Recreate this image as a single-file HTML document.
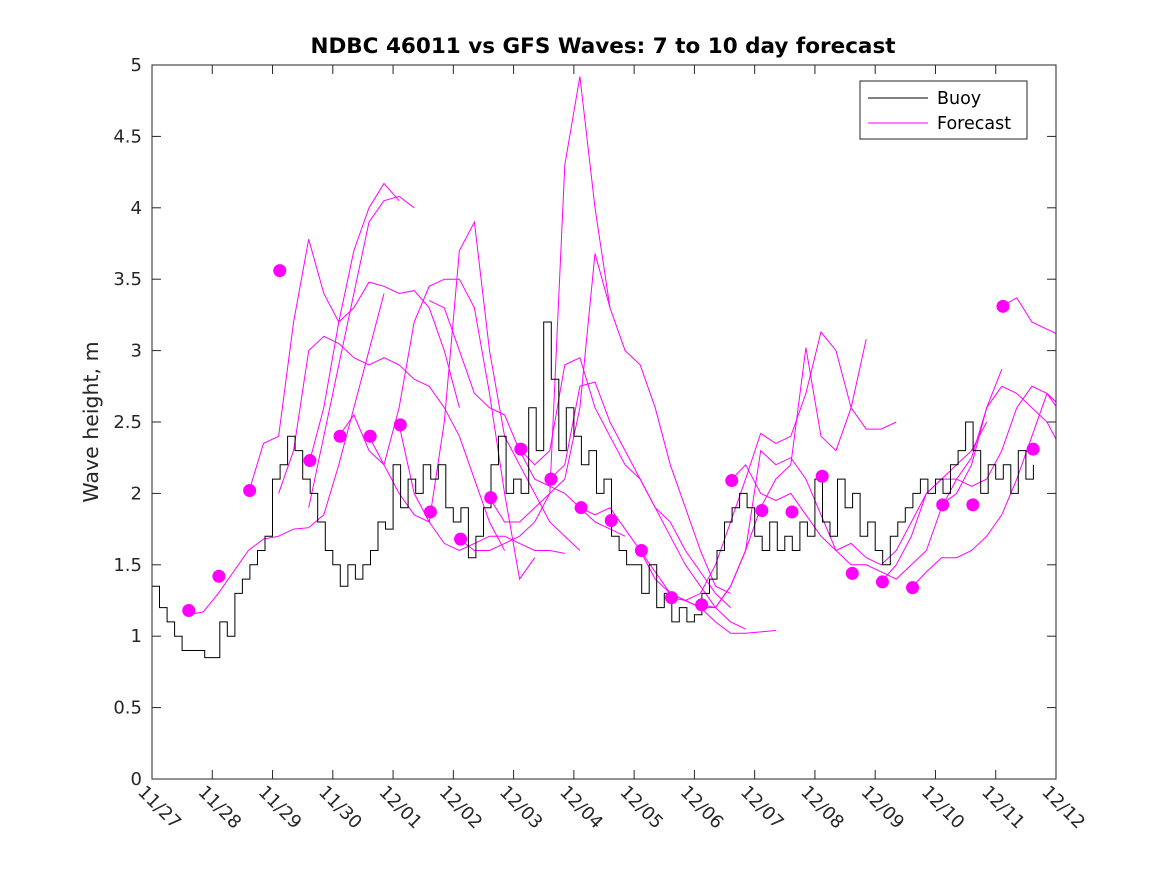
<!DOCTYPE html>
<html><head><meta charset="utf-8"><style>
body{margin:0;background:#fff;}
svg text{font-family:"DejaVu Sans","Liberation Sans",sans-serif;}
</style></head><body>
<svg id="chart" width="1167" height="875" xmlns="http://www.w3.org/2000/svg">
<defs><clipPath id="plotclip"><rect x="152" y="65" width="904" height="714"/></clipPath></defs>
<rect width="1167" height="875" fill="#fff"/>
<text x="603" y="53" text-anchor="middle" font-size="21.5" font-weight="bold">NDBC 46011 vs GFS Waves: 7 to 10 day forecast</text>
<text transform="translate(98,422) rotate(-90)" text-anchor="middle" font-size="20.5" fill="#262626">Wave height, m</text>
<g id="grid"></g>
<g id="series" clip-path="url(#plotclip)"></g>
<rect x="152" y="65" width="904" height="714" fill="none" stroke="#262626" stroke-width="1"/>
<g>
<rect x="860" y="81" width="167" height="58" fill="#fff" stroke="#262626"/>
<line x1="868" y1="98" x2="928" y2="98" stroke="#000"/>
<text x="937" y="104" font-size="17.5">Buoy</text>
<line x1="868" y1="123" x2="928" y2="123" stroke="#f0f"/>
<text x="937" y="129" font-size="17.5">Forecast</text>
</g>
</svg>
<script>
const xTickLabels=["11/27","11/28","11/29","11/30","12/01","12/02","12/03","12/04","12/05","12/06","12/07","12/08","12/09","12/10","12/11","12/12"];
const yTicks=[0,0.5,1,1.5,2,2.5,3,3.5,4,4.5,5];
const yTickLabels=["0","0.5","1","1.5","2","2.5","3","3.5","4","4.5","5"];
const buoyStep=0.125;
const buoyValues=[
1.35,1.2,1.1,1.0,0.9,0.9,0.9,0.85,
0.85,1.1,1.0,1.3,1.4,1.5,1.6,1.7,
2.1,2.2,2.4,2.3,2.1,2.0,1.8,1.6,
1.5,1.35,1.5,1.4,1.5,1.6,1.8,1.75,
2.2,1.9,2.1,2.0,2.2,2.1,2.2,1.9,
1.8,1.9,1.55,1.7,1.9,2.2,2.4,2.0,
2.1,2.0,2.6,2.3,3.2,2.8,2.3,2.6,
2.4,2.2,2.3,2.0,2.1,1.7,1.6,1.5,
1.5,1.3,1.5,1.2,1.3,1.1,1.2,1.1,
1.15,1.3,1.4,1.6,1.8,1.9,2.0,1.9,
1.7,1.6,1.8,1.6,1.7,1.6,1.8,1.7,
2.1,1.8,1.7,2.1,1.9,2.0,1.7,1.8,
1.6,1.5,1.7,1.8,1.9,2.0,2.1,2.0,
2.1,2.0,2.2,2.3,2.5,2.3,2.0,2.2,
2.1,2.2,2.0,2.3,2.1,2.2];
const dotDays=[0.61,1.11,1.62,2.12,2.62,3.12,3.62,4.12,4.62,5.12,5.62,6.12,6.62,7.12,7.62,8.12,8.62,9.12,9.62,10.12,10.62,11.12,11.62,12.12,12.62,13.12,13.62,14.12,14.62];
const dotValues=[1.18,1.42,2.02,3.56,2.23,2.40,2.40,2.48,1.87,1.68,1.97,2.31,2.10,1.90,1.81,1.60,1.27,1.22,2.09,1.88,1.87,2.12,1.44,1.38,1.34,1.92,1.92,3.31,2.31];
const fcStep=0.25;
const fcStarts=[0.6,1.6,2.1,2.6,2.6,3.1,3.6,4.1,4.6,5.1,5.6,6.1,6.6,7.1,8.1,8.6,9.1,9.6,14.1,13.1,12.6,12.1];
const fcValues=[
[1.15,1.17,1.3,1.45,1.6,1.68,1.7,1.75,1.76,1.85,2.2,2.6,3.0,3.4],
[2.0,2.35,2.4,3.2,3.78,3.4,3.2,3.3,3.48,3.45,3.4,3.42,3.3,3.0,2.6],
[2.0,2.3,3.0,3.1,3.05,2.95,2.9,2.95,2.9,2.8,2.75,2.6,2.4,2.1,1.8,1.6],
[1.9,2.4,2.9,3.4,3.9,4.05,4.08,4.0],
[2.2,2.6,3.2,3.7,4.0,4.17,4.05],
[2.4,2.55,2.3,2.2,2.6,3.2,3.45,3.5,3.5,3.3,2.7,2.0,1.4,1.55],
[2.4,2.2,2.0,1.85,1.8,1.65,1.6,1.65,1.7,1.7,1.65,1.6,1.6,1.58],
[2.48,2.0,1.8,2.5,3.7,3.9,3.0,2.4,2.2,2.0,1.8,1.7,1.6],
[3.35,3.3,3.0,2.7,2.6,2.55,2.3,2.1,2.05,2.0,1.9,1.8,1.75,1.7],
[1.68,1.6,1.6,1.65,1.7,1.8,2.0,4.3,4.92,4.0,3.3],
[1.97,1.8,1.8,1.9,2.0,2.1,2.6,3.68,3.3,3.0,2.9,2.6,2.2,1.9,1.6,1.35,1.3],
[2.31,2.2,2.3,2.9,2.95,2.6,2.4,2.2,2.1,1.9,1.8,1.6,1.45,1.3,1.2],
[2.1,2.2,2.75,2.78,2.5,2.3,2.1,1.9,1.7,1.5,1.35,1.2,1.1,1.05],
[1.9,1.85,1.9,1.75,1.6,1.45,1.3,1.25,1.2,1.1,1.02,1.02,1.03,1.04],
[1.6,1.4,1.3,1.25,1.2,1.2,1.35,1.6,1.9,2.1,2.2,3.02,2.4,2.3,2.6,3.08],
[1.27,1.25,1.3,1.5,1.8,2.1,2.42,2.35,2.4,2.7,3.13,3.0,2.6,2.45,2.45,2.5],
[1.22,1.2,1.35,1.6,2.3,2.2,2.25,2.1,1.85,1.6,1.5,1.5,1.45,1.4,1.5,1.6,1.9,2.1,2.25,2.6,2.87],
[2.09,2.2,2.0,1.95,2.0,1.85,1.7,1.6,1.65,1.55,1.5,1.6,1.8,2.0,2.1,2.2,2.3,2.5],
[3.31,3.37,3.2,3.15,3.1,3.05,3.12],
[1.92,2.0,2.2,2.6,2.75,2.7,2.6,2.5,2.3,2.25],
[1.34,1.45,1.55,1.55,1.6,1.7,1.85,2.1,2.4,2.7,2.6,2.4,2.3,2.25],
[1.38,1.5,1.7,2.0,2.1,2.1,2.05,2.1,2.3,2.6,2.75,2.7,2.55,2.7]
];
const NS="http://www.w3.org/2000/svg";
const X0=152,X1=1056,Y0=779,Y1=65;
function xs(d){return X0+(X1-X0)*d/15;}
function ys(v){return Y0-(Y0-Y1)*v/5;}
function mk(t,a,p){const e=document.createElementNS(NS,t);for(const k in a)e.setAttribute(k,a[k]);p.appendChild(e);return e;}
const grid=document.getElementById('grid'),ser=document.getElementById('series');
xTickLabels.forEach((l,i)=>{const x=xs(i);
 const t1=mk('line',{x1:x,y1:Y0,x2:x,y2:Y0-9,stroke:'#262626'},grid);
 
 
 const t2=mk('line',{x1:x,y1:Y1,x2:x,y2:Y1+9,stroke:'#262626'},grid);
 
 
 const tx=mk('text',{x:0,y:0,'font-size':'18','font-family':'DejaVu Sans, sans-serif',transform:`translate(${x-15},${Y0+14}) rotate(45)`,fill:'#262626'},grid);
 tx.textContent=l;
 
 
});
yTicks.forEach((v,i)=>{const y=ys(v);
 const t1=mk('line',{x1:X0,y1:y,x2:X0+9,y2:y,stroke:'#262626'},grid);
 
 
 const t2=mk('line',{x1:X1,y1:y,x2:X1-9,y2:y,stroke:'#262626'},grid);
 
 
 const tx=mk('text',{x:X0-10,y:y+6,'text-anchor':'end','font-size':'18',fill:'#262626'},grid);
 tx.textContent=yTickLabels[i];
 
 
});
fcValues.forEach((vals,j)=>{
 const pts=vals.map((v,i)=>xs(fcStarts[j]+i*fcStep).toFixed(1)+','+ys(v).toFixed(1)).join(' ');
 const p=mk('polyline',{points:pts,fill:'none',stroke:'#f0f','stroke-width':'1'},ser);
 
 
});
{
 let pts=[];buoyValues.forEach((v,i)=>{const x=xs(i*buoyStep),y=ys(v);if(i>0)pts.push(x.toFixed(1)+','+ys(buoyValues[i-1]).toFixed(1));pts.push(x.toFixed(1)+','+y.toFixed(1));});
 const p=mk('polyline',{points:pts.join(' '),fill:'none',stroke:'#000','stroke-width':'1'},ser);
 
 
}
dotValues.forEach((v,i)=>{
 const c=mk('circle',{cx:xs(dotDays[i]),cy:ys(v),r:6.5,fill:'#f0f'},ser);
 
 
});
</script>
</body></html>
